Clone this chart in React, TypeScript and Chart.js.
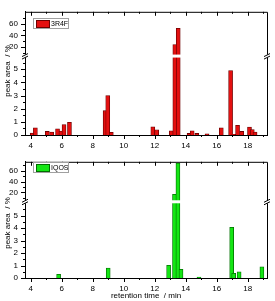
import React, { useEffect, useRef } from 'react';
import { Chart, registerables } from 'chart.js';

Chart.register(...registerables);

// ---- tick values ----
const xTicks = [4, 6, 8, 10, 12, 14, 16, 18];
const xMinorTicks = [5, 7, 9, 11, 13, 15, 17, 19];
const yLowTicks = [0, 1, 2, 3, 4, 5];
const yLowMinorTicks = [0.5, 1.5, 2.5, 3.5, 4.5, 5.5];
const yHighTicks = [20, 40, 60];
const yHighMinorTicks = [10, 30, 50, 70];

// ---- 3R4F (retention time / min, peak area / %) ----
const times3R4F = [4.1, 4.3, 5.07, 5.35, 5.73, 5.95, 6.15, 6.5, 8.8, 8.97, 9.2, 11.88, 12.13, 13.07, 13.3, 13.52, 14.22, 14.42, 14.72, 15.38, 16.3, 16.9, 17.1, 17.35, 17.62, 18.12, 18.3, 18.48];
const area3R4F = [0.15, 0.55, 0.27, 0.22, 0.47, 0.3, 0.8, 0.97, 1.85, 3.0, 0.2, 0.62, 0.4, 0.32, 24.5, 52, 0.12, 0.32, 0.12, 0.08, 0.55, 4.9, 0.05, 0.74, 0.27, 0.6, 0.42, 0.22];

// ---- IQOS ----
const timesIQOS = [5.8, 9.0, 12.9, 13.28, 13.5, 13.7, 14.86, 16.97, 17.1, 17.45, 18.92];
const areaIQOS = [0.3, 0.8, 1.02, 16.6, 73.7, 0.7, 0.07, 4.06, 0.37, 0.5, 0.9];

const FONT = "'Liberation Sans', Arial, sans-serif";

const framePlugin = {
  id: 'frame',
  afterDatasetsDraw(chart: any) {
    const { ctx, chartArea: a, scales } = chart;
    const x = scales.x, yl = scales.yLow, yh = scales.yHigh;
    ctx.save();
    ctx.strokeStyle = '#000';
    ctx.lineWidth = 1;
    // top and right border
    ctx.beginPath();
    ctx.moveTo(a.left, a.top + 0.5);
    ctx.lineTo(a.right + 0.5, a.top + 0.5);
    ctx.lineTo(a.right + 0.5, a.bottom);
    ctx.stroke();
    // ticks
    const seg = (x1: number, y1: number, x2: number, y2: number) => {
      ctx.beginPath(); ctx.moveTo(x1, y1); ctx.lineTo(x2, y2); ctx.stroke();
    };
    xTicks.forEach((v) => {
      const px = Math.round(x.getPixelForValue(v)) + 0.5;
      seg(px, a.bottom, px, a.bottom + 4);
      seg(px, a.top, px, a.top + 4);
    });
    xMinorTicks.forEach((v) => {
      const px = Math.round(x.getPixelForValue(v)) + 0.5;
      seg(px, a.bottom, px, a.bottom + 2);
      seg(px, a.top, px, a.top + 2);
    });
    const yTick = (s: any, vals: number[], len: number) => vals.forEach((v) => {
      const py = Math.round(s.getPixelForValue(v)) + 0.5;
      seg(a.left - len, py, a.left, py);
    });
    yTick(yl, yLowTicks, 4); yTick(yl, yLowMinorTicks, 2);
    yTick(yh, yHighTicks, 4); yTick(yh, yHighMinorTicks, 2);
    // axis break
    const by = yl.top;
    ctx.fillStyle = '#fff';
    ctx.fillRect(a.left - 5, by - 1.5, a.right - a.left + 10, 3);
    [a.left, a.right].forEach((bx) => {
      seg(bx - 3, by + 0.5, bx + 3, by - 2.5);
      seg(bx - 3, by + 3, bx + 3, by);
    });
    ctx.restore();
  },
};

type PanelProps = {
  top: number; height: number; padTop: number; xHeight: number;
  times: number[]; values: number[]; label: string;
  fill: string; edge: string;
  lowMax: number; highMin: number; highMax: number;
  lowWeight: number; highWeight: number;
  xTitle?: string; legendTop: number; yTitleCenter: number;
};

function Panel(p: PanelProps) {
  const ref = useRef<HTMLCanvasElement>(null);
  useEffect(() => {
    const low = p.times.map((t, i) => ({ x: t, y: p.values[i] }));
    const high = p.times.map((t, i) => ({ x: t, y: p.values[i] })).filter((d) => d.y > p.lowMax);
    const common = {
      backgroundColor: p.fill, borderColor: p.edge, borderWidth: 0.8,
      barThickness: 4, grouped: false, clip: { left: 3, right: 3, top: 0, bottom: 1 },
    };
    const tickFont = { family: FONT, size: 8 };
    const chart = new Chart(ref.current as HTMLCanvasElement, {
      type: 'bar',
      data: {
        datasets: [
          { ...common, label: p.label, data: low, yAxisID: 'yLow' } as any,
          { ...common, label: p.label, data: high, yAxisID: 'yHigh' } as any,
        ],
      },
      options: {
        animation: false,
        responsive: false,
        devicePixelRatio: 1,
        layout: { padding: { top: p.padTop, right: 8, bottom: 0, left: 0 } },
        plugins: { legend: { display: false }, tooltip: { enabled: false } },
        scales: {
          x: {
            type: 'linear', min: 3.63, max: 19.25, offset: false,
            grid: { display: false, drawTicks: false },
            border: { display: true, color: '#000', width: 1 },
            afterBuildTicks: (s: any) => { s.ticks = xTicks.map((v) => ({ value: v })); },
            afterFit: (s: any) => { s.height = p.xHeight; },
            ticks: { autoSkip: false, maxRotation: 0, padding: 6, color: '#000', font: tickFont, callback: (v: any) => String(v) },
            title: p.xTitle ? { display: true, text: p.xTitle, color: '#000', font: { family: FONT, size: 8 }, padding: 0 } : { display: false },
          },
          yLow: {
            type: 'linear', position: 'left', stack: 'y', stackWeight: p.lowWeight,
            min: 0, max: p.lowMax,
            grid: { display: false, drawTicks: false },
            border: { display: true, color: '#000', width: 1 },
            afterBuildTicks: (s: any) => { s.ticks = yLowTicks.map((v) => ({ value: v })); },
            afterFit: (s: any) => { s.width = 25; },
            ticks: { autoSkip: false, padding: 7, color: '#000', font: tickFont, callback: (v: any) => String(v) },
          },
          yHigh: {
            type: 'linear', position: 'left', stack: 'y', stackWeight: p.highWeight,
            min: p.highMin, max: p.highMax,
            grid: { display: false, drawTicks: false },
            border: { display: true, color: '#000', width: 1 },
            afterBuildTicks: (s: any) => { s.ticks = yHighTicks.map((v) => ({ value: v })); },
            afterFit: (s: any) => { s.width = 25; },
            ticks: { autoSkip: false, padding: 7, color: '#000', font: tickFont, callback: (v: any) => String(v) },
          },
        },
      } as any,
      plugins: [framePlugin],
    });
    return () => chart.destroy();
  }, []);

  return (
    <div style={{ position: 'absolute', left: 0, top: p.top, width: 275, height: p.height }}>
      <canvas ref={ref} width={275} height={p.height} style={{ display: 'block', width: 275, height: p.height }} />
      <div style={{
        position: 'absolute', left: 6.5, top: p.yTitleCenter, transform: 'translate(-50%, -50%) rotate(-90deg)',
        whiteSpace: 'pre', font: `8px ${FONT}`, color: '#000', lineHeight: '9px',
      }}>{'peak area  / %'}</div>
      <div style={{
        position: 'absolute', left: 33, top: p.legendTop, width: 34, height: 8.5,
        border: '1px solid #a0a0a0', background: '#fff',
      }}>
        <div style={{ position: 'absolute', left: 1.5, top: 1, width: 12, height: 5.5, background: p.fill, border: `0.8px solid ${p.edge}` }} />
        <div style={{ position: 'absolute', left: 17, top: -0.5, font: `7px ${FONT}`, lineHeight: '9px', color: '#000', whiteSpace: 'nowrap' }}>{p.label}</div>
      </div>
    </div>
  );
}

export default function App() {
  useEffect(() => { document.body.style.margin = '0'; }, []);
  return (
    <div style={{ position: 'absolute', left: 0, top: 0, width: 275, height: 301, background: '#fff' }}>
      <Panel top={0} height={150} padTop={7} xHeight={15}
        times={times3R4F} values={area3R4F} label="3R4F"
        fill="rgb(228,16,16)" edge="rgb(110,0,0)"
        lowMax={6} highMin={5} highMax={80} lowWeight={82} highWeight={46}
        legendTop={18} yTitleCenter={71} />
      <Panel top={150} height={151} padTop={3} xHeight={23}
        times={timesIQOS} values={areaIQOS} label="IQOS"
        fill="rgb(20,230,20)" edge="rgb(0,110,0)"
        lowMax={6.1} highMin={3} highMax={76} lowWeight={82} highWeight={43}
        xTitle="retention time  / min" legendTop={12} yTitleCenter={73} />
    </div>
  );
}
